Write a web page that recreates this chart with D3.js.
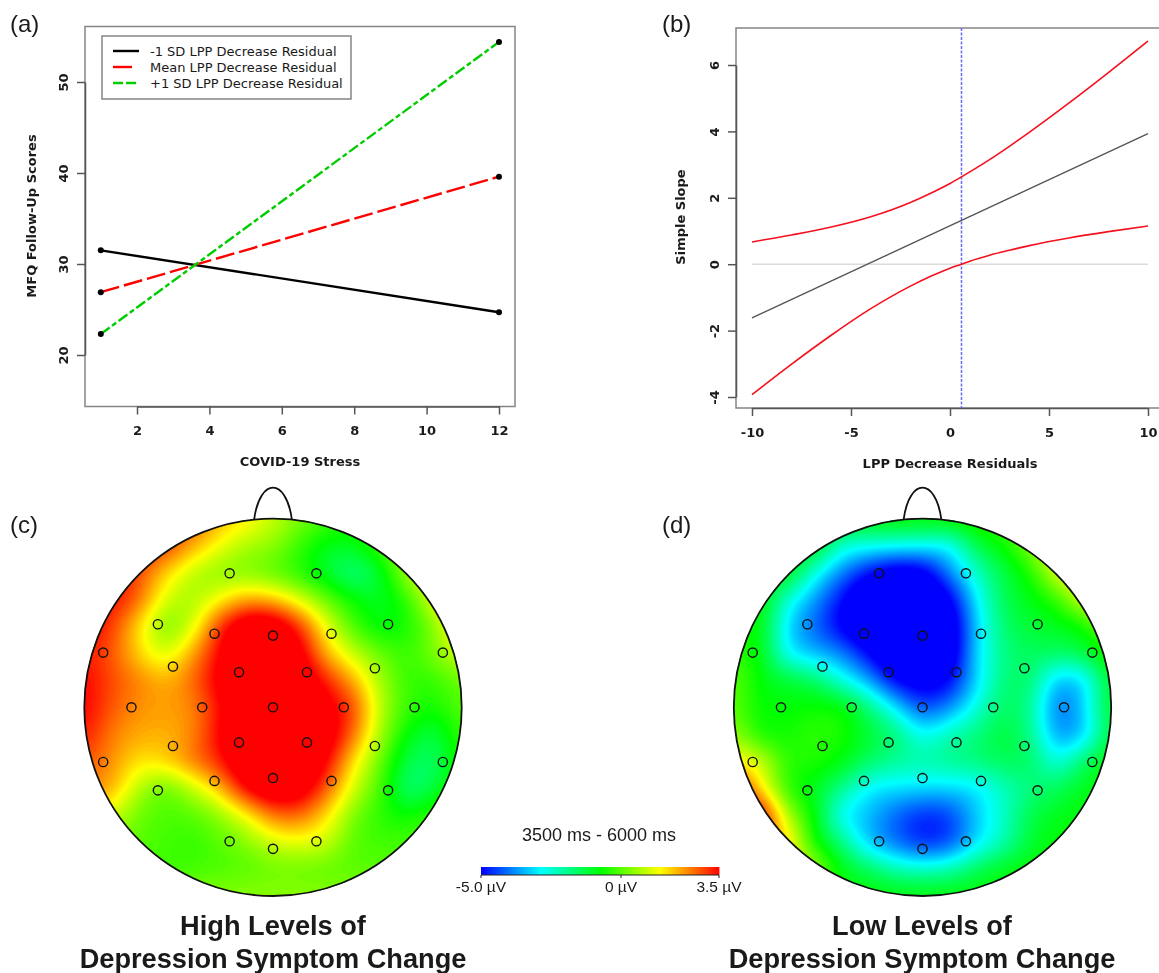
<!DOCTYPE html>
<html>
<head>
<meta charset="utf-8">
<title>LPP decrease residuals and depression symptom change</title>
<script src="https://cdn.jsdelivr.net/npm/d3@7"></script>
<style>
    body { margin: 0; background: #fff; }
    svg { display: block; filter: blur(0.45px); }
    .r-text { font-family: "DejaVu Sans", sans-serif; fill: #1a1a1a; }
    .r-bold { font-family: "DejaVu Sans", sans-serif; font-weight: bold; fill: #1a1a1a; }
    .arial { font-family: "Liberation Sans", Arial, sans-serif; fill: #1a1a1a; }
</style>
</head>
<body>
<svg id="chart" width="1159" height="973"></svg>
<script>
// panel (a): simple slopes at stress = 1 and stress = 12
const stressValues = [1, 12];
const lowSlope = [31.5, 24.7];
const meanSlope = [26.9, 39.6];
const highSlope = [22.3, 54.4];
const legendLabels = ['-1 SD LPP Decrease Residual', 'Mean LPP Decrease Residual', '+1 SD LPP Decrease Residual'];
const stressTicks = [2, 4, 6, 8, 10, 12];
const mfqTicks = [20, 30, 40, 50];

// panel (b): Johnson-Neyman plot
const residuals = [-10, -8, -6, -4, -2, -1, 0, 0.58, 1, 2, 3, 4, 6, 8, 10];
const upperBand = [0.67, 0.88, 1.12, 1.43, 1.86, 2.13, 2.43, 2.63, 2.78, 3.15, 3.55, 3.97, 4.85, 5.77, 6.72];
const lowerBand = [-3.93, -3.01, -2.14, -1.34, -0.66, -0.37, -0.12, 0, 0.09, 0.27, 0.42, 0.56, 0.79, 0.98, 1.15];
const slopeEnds = [-1.62, 3.93];
const slopeEndX = [-10, 10];
const regionOfSignificance = 0.58;
const residualTicks = [-10, -5, 0, 5, 10];
const simpleSlopeTicks = [-4, -2, 0, 2, 4, 6];

// electrodes on the head, unit circle coordinates
const electrodeX = [-0.23, 0.23, -0.61, -0.31, 0, 0.31, 0.61, -0.9, -0.53, -0.18, 0.18, 0.54, 0.9,
    -0.75, -0.375, 0, 0.375, 0.75, -0.9, -0.53, -0.18, 0.18, 0.54, 0.9, -0.61, -0.31, 0, 0.31, 0.61, -0.23, 0, 0.23];
const electrodeY = [0.71, 0.71, 0.44, 0.39, 0.38, 0.39, 0.44, 0.29, 0.216, 0.186, 0.186, 0.207, 0.29,
    0, 0, 0, 0, 0, -0.29, -0.205, -0.186, -0.186, -0.205, -0.29, -0.44, -0.39, -0.375, -0.39, -0.44, -0.71, -0.75, -0.71];

// scalp voltages in microvolts read on a 15 x 15 grid, row 0 is the front of the head
const highSymptomMap = [
    [3, 3, 3, 3, 2.8, 2, 1.5, 0.9, 0.3, -0.2, -0.5, -0.5, 0, 0.5, 1],
    [3.4, 3.3, 3.2, 3, 2.1, 1.3, 0.7, 0.4, -0.3, -0.9, -0.9, -0.2, 0.5, 1, 1],
    [3.4, 3.4, 2.9, 1.8, 0.9, 0.5, 0.4, 0.1, -0.4, -1.1, -1.7, -1, 0.6, 1.5, 1.5],
    [3.4, 3.4, 2.6, 1.1, 0.7, 1.4, 2.1, 1.9, 1.1, 0.1, -0.7, -1, -0.3, 1.2, 2],
    [3.6, 3, 1.7, 0.4, 1.1, 3, 4.2, 4.2, 3, 1.2, -0.1, -0.8, -0.5, 0.4, 1.8],
    [3.3, 2.8, 1.8, 1.1, 2.1, 3.5, 4.6, 4.6, 3.8, 2, 0.9, 0.1, -0.3, 0.3, 1],
    [3.5, 2.9, 2.4, 2, 2.6, 3.7, 4.6, 4.7, 4.2, 3.2, 2, 0.6, -0.3, -0.3, 0.2],
    [3.5, 2.8, 2.3, 2.2, 2.4, 3.4, 4.6, 5, 4.5, 3.8, 2.8, 0.8, -0.3, -0.6, 0],
    [3.3, 2.5, 2.1, 2, 2.4, 3.5, 4.6, 5, 4.7, 4, 2.5, 0.6, -0.8, -1.2, -0.3],
    [2.8, 2.3, 1.6, 1.7, 2.4, 3.2, 4.4, 5, 4.6, 3.5, 1.6, 0.1, -1.3, -1.5, -0.5],
    [2.4, 2, 0.8, 0.2, 0.9, 1.9, 3.5, 4.3, 4, 2.7, 1, -0.2, -1.6, -1.2, -0.3],
    [1.5, 1, 0.2, -0.1, 0, 0.5, 1.4, 2.5, 2.6, 1.6, 0.3, -0.4, -0.7, -0.3, 0],
    [1, 0.5, 0, -0.2, -0.3, 0, 0.4, 1, 1.2, 0.9, 0, -0.2, -0.2, 0, 0],
    [0.5, 0.3, 0, -0.2, -0.2, -0.1, 0, 0.2, 0.2, 0.1, 0, 0, 0, 0, 0],
    [0.4, 0.4, 0.4, 0.4, 0.4, 0.4, 0.4, 0.4, 0.4, 0.4, 0.4, 0.4, 0.4, 0.4, 0.4]
];
const lowSymptomMap = [
    [-1, -1, -1, -1, -1, -0.8, -0.7, -0.7, -0.6, -0.4, -0.1, 0.3, 0.8, 1, 1],
    [-1, -1, -1, -1, -2.4, -2.7, -2.8, -2.9, -2.8, -1.4, -0.7, 0.3, 1.4, 1.8, 1.8],
    [-1, -1, -1, -2.6, -3.9, -4.9, -5.5, -5.3, -3.9, -2.4, -1.3, -0.5, 1, 1.8, 1.8],
    [-0.8, -0.8, -2.5, -3.7, -4.9, -6, -6, -6, -5.2, -3, -1.5, -0.9, -0.3, 1, 1.6],
    [-0.8, -0.9, -3.1, -4.1, -5.1, -6, -6, -6, -5.7, -3.3, -1.7, -1.2, -1, -0.6, 0.4],
    [-0.4, -0.9, -2.8, -3.4, -3.9, -5, -6, -6, -5.7, -3.2, -1.9, -1.5, -1.6, -1.3, -0.5],
    [0, -0.8, -1.2, -1.6, -2.6, -3.6, -5, -5.4, -5, -3.2, -1.8, -1.7, -3.3, -3, -1],
    [0, -0.7, -0.8, -0.7, -0.8, -1.8, -3.1, -4.3, -3.8, -2.6, -1.6, -2, -3.9, -3.2, -1],
    [0.5, -0.5, -0.6, -0.4, -0.6, -1.2, -1.8, -2.8, -2.3, -1.8, -1.3, -1.9, -3.6, -3.2, -1.2],
    [1.5, 0.9, -0.4, -0.5, -0.9, -1.6, -2, -2.2, -2, -1.8, -1.5, -1.6, -2.6, -1.6, -0.8],
    [3.5, 1.6, -0.3, -1, -1.9, -2.9, -3.1, -3.2, -3.2, -3, -2.3, -1.8, -1.5, -1, -0.8],
    [3.5, 3.5, 0.7, -0.8, -2.8, -3.4, -4.1, -4.6, -4.4, -3.3, -2.4, -1.4, -1, -0.8, -0.8],
    [3, 2.5, 1.6, -0.6, -1.8, -3.3, -4, -4.6, -4.3, -3.1, -2.2, -1.2, -0.8, -0.8, -0.8],
    [1, 1, 1, 0.5, -0.9, -1.5, -2.2, -2.4, -2.2, -1.5, -1, -0.8, -0.8, -0.8, -0.8],
    [-0.8, -0.8, -0.8, -0.8, -0.8, -0.8, -0.8, -0.8, -0.8, -0.8, -0.8, -0.8, -0.8, -0.8, -0.8]
];

const colorStops = [-5, -2.875, -0.75, 1.375, 3.5];
const colorStopHues = ['#0000ff', '#00ffff', '#00ff00', '#ffff00', '#ff0000'];
const colorbarTicks = [-5, 0, 3.5];
const colorbarLabels = ['-5.0 µV', '0 µV', '3.5 µV'];

const svg = d3.select('#chart');
const boxColor = '#858585';
const axisColor = '#555555';

// R style frame: box, then axis lines with ticks
function drawFrame(g, x, y, xTicks, yTicks, xRange, yRange) {
    g.append('rect')
        .attr('x', xRange[0]).attr('y', yRange[1])
        .attr('width', xRange[1] - xRange[0]).attr('height', yRange[0] - yRange[1])
        .attr('fill', 'none').attr('stroke', boxColor).attr('stroke-width', 1.5);

    const xAxis = g.append('g')
        .attr('transform', `translate(0,${yRange[0]})`)
        .call(d3.axisBottom(x).tickValues(xTicks).tickSizeInner(8).tickSizeOuter(0).tickPadding(11.3).tickFormat(d => String(d)));
    xAxis.select('.domain').attr('stroke', axisColor).attr('stroke-width', 1.5);
    xAxis.selectAll('line').attr('stroke', axisColor).attr('stroke-width', 1.5);
    xAxis.selectAll('text').attr('class', 'r-bold').style('font-size', '13px');

    const yAxis = g.append('g')
        .attr('transform', `translate(${xRange[0]},0)`)
        .call(d3.axisLeft(y).tickValues(yTicks).tickSizeInner(8).tickSizeOuter(0).tickFormat(d => String(d)));
    yAxis.select('.domain').attr('stroke', axisColor).attr('stroke-width', 1.5);
    yAxis.selectAll('line').attr('stroke', axisColor).attr('stroke-width', 1.5);
    // rotated tick labels, as in base R
    yAxis.selectAll('text')
        .attr('class', 'r-bold').style('font-size', '13px')
        .attr('x', null).attr('dy', null)
        .attr('text-anchor', 'middle')
        .attr('transform', 'translate(-17,0) rotate(-90)');
}

// ---------- panel (a)
function drawPanelA() {
    const g = svg.append('g');
    const xRange = [85, 515], yRange = [406.5, 26.5];
    const x = d3.scaleLinear().domain([2, 12]).range([137, 499]);
    const y = d3.scaleLinear().domain([20, 50]).range([355, 82]);
    drawFrame(g, x, y, stressTicks, mfqTicks, xRange, yRange);

    const line = d3.line().x((d, i) => x(stressValues[i])).y(d => y(d));
    const series = [
        { values: lowSlope, color: '#000000', dash: null },
        { values: meanSlope, color: '#ff0000', dash: '19 5' },
        { values: highSlope, color: '#00cd00', dash: '11 3 5 3' }
    ];
    series.forEach(s => {
        g.append('path').attr('d', line(s.values))
            .attr('fill', 'none').attr('stroke', s.color).attr('stroke-width', 2.4)
            .attr('stroke-dasharray', s.dash);
        g.selectAll(null).data(s.values).join('circle')
            .attr('cx', (d, i) => x(stressValues[i])).attr('cy', d => y(d))
            .attr('r', 3).attr('fill', '#000');
    });

    g.append('text').attr('class', 'r-bold').attr('x', 300).attr('y', 466)
        .attr('text-anchor', 'middle').style('font-size', '13px').text('COVID-19 Stress');
    g.append('text').attr('class', 'r-bold').attr('text-anchor', 'middle').style('font-size', '13px')
        .attr('transform', 'translate(36,216) rotate(-90)').text('MFQ Follow-Up Scores');

    // legend
    g.append('rect').attr('x', 102).attr('y', 36).attr('width', 249).attr('height', 63)
        .attr('fill', '#fff').attr('stroke', boxColor).attr('stroke-width', 1.5);
    const rowY = d3.scalePoint().domain(legendLabels).range([51, 83]);
    const legendDash = [null, '19 8', '10 3'];
    legendLabels.forEach((label, i) => {
        g.append('line').attr('x1', 113).attr('x2', 139).attr('y1', rowY(label)).attr('y2', rowY(label))
            .attr('stroke', series[i].color).attr('stroke-width', 2.4).attr('stroke-dasharray', legendDash[i]);
        g.append('text').attr('class', 'r-text').attr('x', 150).attr('y', rowY(label) + 4.7)
            .style('font-size', '13px').text(label);
    });
}

// ---------- panel (b)
function drawPanelB() {
    const g = svg.append('g');
    const xRange = [736, 1175], yRange = [408, 28];
    const x = d3.scaleLinear().domain([-10, 10]).range([752, 1148]);
    const y = d3.scaleLinear().domain([-4, 6]).range([397, 65]);
    drawFrame(g, x, y, residualTicks, simpleSlopeTicks, xRange, yRange);

    g.append('line').attr('x1', x(-10)).attr('x2', x(10)).attr('y1', y(0)).attr('y2', y(0))
        .attr('stroke', '#dcdcdc').attr('stroke-width', 1.6);
    g.append('line').attr('x1', x(regionOfSignificance)).attr('x2', x(regionOfSignificance))
        .attr('y1', yRange[1]).attr('y2', yRange[0])
        .attr('stroke', '#6a6af5').attr('stroke-width', 1.5).attr('stroke-dasharray', '3 1.5');

    g.append('path')
        .attr('d', d3.line().x((d, i) => x(slopeEndX[i])).y(d => y(d))(slopeEnds))
        .attr('fill', 'none').attr('stroke', '#555').attr('stroke-width', 1.4);

    const band = d3.line().x((d, i) => x(residuals[i])).y(d => y(d)).curve(d3.curveMonotoneX);
    [upperBand, lowerBand].forEach(values => {
        g.append('path').attr('d', band(values))
            .attr('fill', 'none').attr('stroke', '#f5101e').attr('stroke-width', 1.6);
    });

    g.append('text').attr('class', 'r-bold').attr('x', 950).attr('y', 468)
        .attr('text-anchor', 'middle').style('font-size', '13px').text('LPP Decrease Residuals');
    g.append('text').attr('class', 'r-bold').attr('text-anchor', 'middle').style('font-size', '13px')
        .attr('transform', 'translate(685,217) rotate(-90)').text('Simple Slope');
}

// ---------- panels (c) and (d)
const voltageColor = d3.scaleLinear().domain(colorStops).range(colorStopHues).clamp(true);

// catmull-rom resampling of the read grid, only so the contours are not blocky
function resample(matrix, size) {
    const rows = matrix.length, cols = matrix[0].length;
    const at = (r, c) => matrix[Math.max(0, Math.min(rows - 1, r))][Math.max(0, Math.min(cols - 1, c))];
    const cubic = (a, b, c, d, t) => 0.5 * (2 * b + (c - a) * t + (2 * a - 5 * b + 4 * c - d) * t * t + (3 * b - a - 3 * c + d) * t * t * t);
    const out = new Float64Array(size * size);
    for (let j = 0; j < size; j++) {
        const fy = j / (size - 1) * (rows - 1), r = Math.floor(fy), ty = fy - r;
        for (let i = 0; i < size; i++) {
            const fx = i / (size - 1) * (cols - 1), c = Math.floor(fx), tx = fx - c;
            const col = [-1, 0, 1, 2].map(k => cubic(at(r + k, c - 1), at(r + k, c), at(r + k, c + 1), at(r + k, c + 2), tx));
            out[j * size + i] = cubic(col[0], col[1], col[2], col[3], ty);
        }
    }
    // soften the grid corners a little
    d3.blur2({ data: out, width: size, height: size }, 4);
    return out;
}

function drawHead(matrix, cx, cy, radius, clipId) {
    const g = svg.append('g');
    const hx = d3.scaleLinear().domain([-1, 1]).range([cx - radius, cx + radius]);
    const hy = d3.scaleLinear().domain([-1, 1]).range([cy + radius, cy - radius]);

    g.append('clipPath').attr('id', clipId).append('circle')
        .attr('cx', cx).attr('cy', cy).attr('r', radius);

    const size = 190;
    const values = resample(matrix, size);
    const step = 0.07;
    const thresholds = d3.range(-5, 3.5, step);
    const contours = d3.contours().size([size, size]).thresholds(thresholds)(values);
    const project = d3.geoTransform({
        point(px, py) {
            this.stream.point(hx(-1 + 2 * (px - 0.5) / (size - 1)), hy(1 - 2 * (py - 0.5) / (size - 1)));
        }
    });
    const path = d3.geoPath(project);

    const maps = g.append('g').attr('clip-path', `url(#${clipId})`);
    maps.append('circle').attr('cx', cx).attr('cy', cy).attr('r', radius).attr('fill', '#0000ff');
    maps.selectAll('path').data(contours).join('path')
        .attr('d', path)
        .attr('fill', d => voltageColor(d.value + step / 2));

    // head outline and nose
    g.append('circle').attr('cx', cx).attr('cy', cy).attr('r', radius)
        .attr('fill', 'none').attr('stroke', '#111').attr('stroke-width', 1.8);
    const nose = d3.path();
    nose.moveTo(hx(-0.1), hy(0.995));
    nose.bezierCurveTo(hx(-0.07), hy(1.22), hx(0.07), hy(1.22), hx(0.1), hy(0.995));
    g.append('path').attr('d', nose.toString())
        .attr('fill', 'none').attr('stroke', '#111').attr('stroke-width', 1.8);

    g.selectAll('.electrode').data(electrodeX).join('circle')
        .attr('class', 'electrode')
        .attr('cx', d => hx(d)).attr('cy', (d, i) => hy(electrodeY[i]))
        .attr('r', 4.6).attr('fill', 'none').attr('stroke', '#111').attr('stroke-width', 1.4);
}

function drawColorbar() {
    const g = svg.append('g');
    const x = d3.scaleLinear().domain([-5, 3.5]).range([481, 719]);
    const cells = d3.range(-5, 3.5, 8.5 / 238);
    g.selectAll('rect').data(cells).join('rect')
        .attr('x', d => x(d)).attr('y', 867).attr('width', 1.4).attr('height', 8)
        .attr('fill', d => voltageColor(d));
    g.append('line').attr('x1', 481).attr('x2', 719).attr('y1', 875).attr('y2', 875)
        .attr('stroke', '#222').attr('stroke-width', 1);
    g.selectAll('.cb-tick').data(colorbarTicks).join('line').attr('class', 'cb-tick')
        .attr('x1', d => x(d)).attr('x2', d => x(d)).attr('y1', 875).attr('y2', 878)
        .attr('stroke', '#222').attr('stroke-width', 1);
    g.selectAll('text').data(colorbarTicks).join('text')
        .attr('class', 'arial').attr('x', d => x(d)).attr('y', 892)
        .attr('text-anchor', 'middle').style('font-size', '15.5px')
        .text((d, i) => colorbarLabels[i]);
    g.append('text').attr('class', 'arial').attr('x', 599).attr('y', 841)
        .attr('text-anchor', 'middle').style('font-size', '18px').text('3500 ms - 6000 ms');
}

function drawCaptions() {
    const labels = [['(a)', 10, 32], ['(b)', 662, 32], ['(c)', 10, 533], ['(d)', 662, 533]];
    labels.forEach(d => {
        svg.append('text').attr('class', 'arial').attr('x', d[1]).attr('y', d[2])
            .style('font-size', '24px').text(d[0]);
    });
    const captions = [
        ['High Levels of', 273, 935], ['Depression Symptom Change', 273, 968],
        ['Low Levels of', 922, 935], ['Depression Symptom Change', 922, 968]
    ];
    captions.forEach(d => {
        svg.append('text').attr('class', 'arial').attr('x', d[1]).attr('y', d[2])
            .attr('text-anchor', 'middle').style('font-size', '27.2px').style('font-weight', 'bold').text(d[0]);
    });
}

drawPanelA();
drawPanelB();
drawHead(highSymptomMap, 273, 707.3, 188.7, 'head-c');
drawHead(lowSymptomMap, 922.5, 707.3, 188.7, 'head-d');
drawColorbar();
drawCaptions();
</script>
</body>
</html>
